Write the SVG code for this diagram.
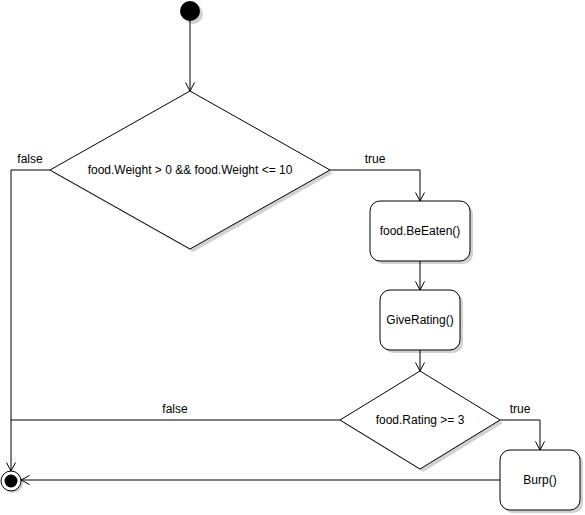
<svg xmlns="http://www.w3.org/2000/svg" width="585" height="515" viewBox="0 0 585 515">
<style>
.shape{fill:#ffffff;stroke:#000000;stroke-width:1}
.edge{fill:none;stroke:#000000;stroke-width:1}
.shadow{fill:#000000;opacity:0.18;stroke:none}
text{font-family:"Liberation Sans",Arial,sans-serif;font-size:12px;fill:#000000}
.c{text-anchor:middle;dominant-baseline:central}
</style>
<defs>
<marker id="open" viewBox="0 0 10 10" refX="9.5" refY="5" markerWidth="10" markerHeight="10" markerUnits="userSpaceOnUse" orient="auto">
<path d="M1,0.5 L9.5,5 L1,9.5" fill="none" stroke="#000000" stroke-width="1"/>
</marker>
</defs>
<rect width="585" height="515" fill="#ffffff"/>
<g id="start">
<circle cx="193" cy="14" r="10" class="shadow"/>
<circle cx="190" cy="11" r="10" fill="#000000"/>
</g>
<g id="decision1">
<polygon points="193,94 333,173 193,252 53,173" class="shadow"/>
<polygon points="190,91 330,170 190,249 50,170" class="shape"/>
<text x="190" y="170" class="c">food.Weight &gt; 0 &amp;&amp; food.Weight &lt;= 10</text>
</g>
<g id="beEaten">
<rect x="373" y="204" width="100" height="60" rx="10" class="shadow"/>
<rect x="370" y="201" width="100" height="60" rx="10" class="shape"/>
<text x="420" y="231" class="c">food.BeEaten()</text>
</g>
<g id="giveRating">
<rect x="383" y="293" width="80" height="60" rx="10" class="shadow"/>
<rect x="380" y="290" width="80" height="60" rx="10" class="shape"/>
<text x="420" y="320" class="c">GiveRating()</text>
</g>
<g id="decision2">
<polygon points="423,374 503,423 423,472 343,423" class="shadow"/>
<polygon points="420,371 500,420 420,469 340,420" class="shape"/>
<text x="420" y="420" class="c">food.Rating &gt;= 3</text>
</g>
<g id="burp">
<rect x="503" y="453" width="80" height="60" rx="10" class="shadow"/>
<rect x="500" y="450" width="80" height="60" rx="10" class="shape"/>
<text x="540" y="480" class="c">Burp()</text>
</g>
<g id="end">
<circle cx="13" cy="483" r="10" class="shadow"/>
<circle cx="11" cy="481" r="10" fill="#ffffff" stroke="#000000" stroke-width="1"/>
<circle cx="11" cy="481" r="6.5" fill="#000000"/>
</g>
<g id="connectors">
<path d="M190,21 L190,91" class="edge" marker-end="url(#open)"/>
<path d="M330,170 L420,170 L420,201" class="edge" marker-end="url(#open)"/>
<text x="375" y="159" class="c">true</text>
<path d="M50,170 L11,170 L11,471" class="edge" marker-end="url(#open)"/>
<text x="30" y="159" class="c">false</text>
<path d="M420,261 L420,290" class="edge" marker-end="url(#open)"/>
<path d="M420,350 L420,371" class="edge" marker-end="url(#open)"/>
<path d="M500,420 L540,420 L540,450" class="edge" marker-end="url(#open)"/>
<text x="520" y="409" class="c">true</text>
<path d="M340,420 L11,420" class="edge"/>
<text x="175" y="409" class="c">false</text>
<path d="M500,480 L21,480" class="edge" marker-end="url(#open)"/>
</g>
</svg>
